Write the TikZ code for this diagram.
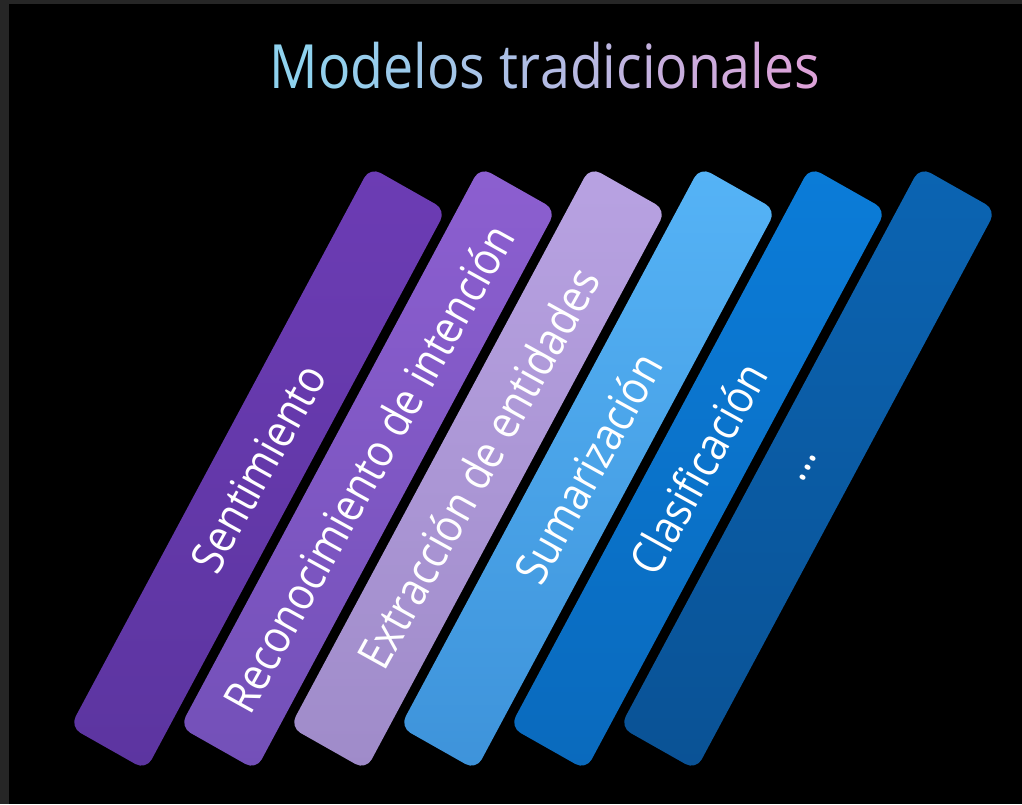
\documentclass[tikz,border=0pt]{standalone}
\usepackage{fontspec}
\newfontfamily\segoe[FakeStretch=0.88]{Open Sans}
\definecolor{frame}{HTML}{262626}
\definecolor{tl}{HTML}{8FD2EE}
\definecolor{tr}{HTML}{DCA2D8}
\definecolor{b1t}{HTML}{6C3CB4}\definecolor{b1b}{HTML}{5C35A0}
\definecolor{b2t}{HTML}{8C5FD0}\definecolor{b2b}{HTML}{7350B8}
\definecolor{b3t}{HTML}{B8A2E2}\definecolor{b3b}{HTML}{9F8BC9}
\definecolor{b4t}{HTML}{55B3F6}\definecolor{b4b}{HTML}{3E93DA}
\definecolor{b5t}{HTML}{0B7CD8}\definecolor{b5b}{HTML}{0A6ABD}
\definecolor{b6t}{HTML}{0B64B2}\definecolor{b6b}{HTML}{0A5295}
\tikzset{
  barshape/.style={rounded corners=12pt},
  barlabel/.style={rotate=61, text=white, inner sep=0pt, font=\fontsize{46}{50}\segoe},
  titlestyle/.style={anchor=base, inner sep=0pt, font=\fontsize{61}{70}\segoe}
}
\newcommand{\tc}[2]{\textcolor{tr!#1!tl}{#2}}
\begin{document}
\begin{tikzpicture}[x=1pt,y=-1pt]
\useasboundingbox (0,0) rectangle (1022,804);
\fill[frame] (0,0) rectangle (1022,804);
\fill[black] (9,4) rectangle (1022,804);
% title
\node[titlestyle] (title) at (545,88) {\tc{0}{M}\tc{5}{o}\tc{11}{d}\tc{16}{e}\tc{21}{l}\tc{26}{o}\tc{32}{s} \tc{37}{t}\tc{42}{r}\tc{47}{a}\tc{53}{d}\tc{58}{i}\tc{63}{c}\tc{68}{i}\tc{74}{o}\tc{79}{n}\tc{84}{a}\tc{89}{l}\tc{95}{e}\tc{100}{s}};
% bars
\foreach \k/\ct/\cb in {0/b1t/b1b,1/b2t/b2b,2/b3t/b3b,3/b4t/b4b,4/b5t/b5b,5/b6t/b6b}{
  \shade[barshape, top color=\ct, bottom color=\cb]
    ({370+110*\k},167) -- ({446+110*\k},210) -- ({146+110*\k},770) -- ({70+110*\k},727) -- cycle;
}
% labels
\node[barlabel] (l1) at (258,468) {Sentimiento};
\node[barlabel] (l2) at (368,468) {Reconocimiento de intención};
\node[barlabel] (l3) at (478,468) {Extracción de entidades};
\node[barlabel] (l4) at (588,468) {Sumarización};
\node[barlabel] (l5) at (698,468) {Clasificación};
\node[barlabel] (l6) at (808,468) {...};
\end{tikzpicture}
\end{document}
